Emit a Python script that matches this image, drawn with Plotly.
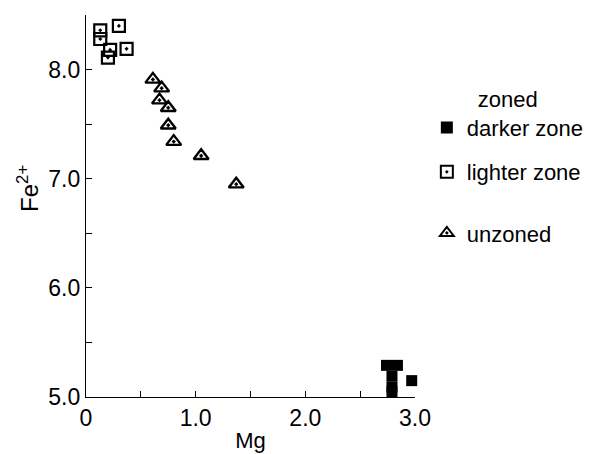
import plotly.graph_objects as go

# Data
darker_mg = [2.74, 2.84, 2.79, 2.79, 2.79, 2.97]
darker_fe = [5.29, 5.29, 5.19, 5.09, 5.05, 5.15]

lighter_mg = [0.13, 0.13, 0.30, 0.37, 0.22, 0.20]
lighter_fe = [8.36, 8.28, 8.40, 8.19, 8.18, 8.11]

unzoned_mg = [0.61, 0.69, 0.67, 0.75, 0.75, 0.80, 1.05, 1.37]
unzoned_fe = [7.91, 7.83, 7.72, 7.65, 7.49, 7.34, 7.21, 6.95]

x_ticks = [0, 1.0, 2.0, 3.0]
x_labels = ["0", "1.0", "2.0", "3.0"]
y_ticks = [5.0, 6.0, 7.0, 8.0]
y_labels = ["5.0", "6.0", "7.0", "8.0"]

FONT = "Liberation Sans, Arial, sans-serif"

fig = go.Figure()
fig.add_trace(go.Scatter(
    x=darker_mg, y=darker_fe, mode="markers", name="darker zone",
    legend="legend", cliponaxis=False,
    marker=dict(symbol="square", size=11, color="black", line=dict(width=0)),
))
fig.add_trace(go.Scatter(
    x=lighter_mg, y=lighter_fe, mode="markers", name="lighter zone",
    legend="legend2", cliponaxis=False,
    marker=dict(symbol="square-open-dot", size=12, color="black",
                line=dict(width=2.2, color="black")),
))
fig.add_trace(go.Scatter(
    x=unzoned_mg, y=unzoned_fe, mode="markers", name="unzoned",
    legend="legend3", cliponaxis=False,
    marker=dict(symbol="triangle-up-open-dot", size=13, color="black",
                line=dict(width=2.4, color="black")),
))

axis_common = dict(
    showgrid=False, zeroline=False, showline=True, linecolor="black",
    linewidth=1.3, ticks="inside", ticklen=6, tickwidth=1.3, tickcolor="black",
    tickfont=dict(family=FONT, size=23, color="black"),
    automargin=False,
    minor=dict(dtick=0.5, ticks="inside", ticklen=6, tickwidth=1.3,
               tickcolor="black", showgrid=False),
)

leg_common = dict(
    xanchor="left", bgcolor="rgba(0,0,0,0)", borderwidth=0,
    font=dict(size=22, family=FONT, color="black"), itemsizing="constant",
)

# the page body adds an 8px margin, so the figure is sized and placed to compensate
fig.update_layout(
    width=583, height=446,
    margin=dict(l=78, r=176, t=7, b=57, autoexpand=False),
    paper_bgcolor="white", plot_bgcolor="white",
    font=dict(family=FONT, color="black"),
    showlegend=True,
    legend=dict(x=1.036, y=0.835, yanchor="top",
                title=dict(text="zoned", side="top center",
                           font=dict(size=22, family=FONT, color="black")),
                **leg_common),
    legend2=dict(x=1.036, y=0.589, yanchor="middle", **leg_common),
    legend3=dict(x=1.036, y=0.429, yanchor="middle", **leg_common),
    xaxis=dict(range=[0, 3.0], tickvals=x_ticks, ticktext=x_labels,
               title=dict(text="Mg", font=dict(size=22, family=FONT, color="black"),
                          standoff=2),
               **axis_common),
    yaxis=dict(range=[5.0, 8.5], tickvals=y_ticks, ticktext=y_labels,
               **axis_common),
    annotations=[dict(
        text="Fe<sup>2+</sup>", textangle=-90, showarrow=False,
        xref="paper", yref="paper", x=-0.176, y=0.545,
        xanchor="center", yanchor="middle",
        font=dict(size=24, family=FONT, color="black"),
    )],
)

fig.write_html("out.html")
